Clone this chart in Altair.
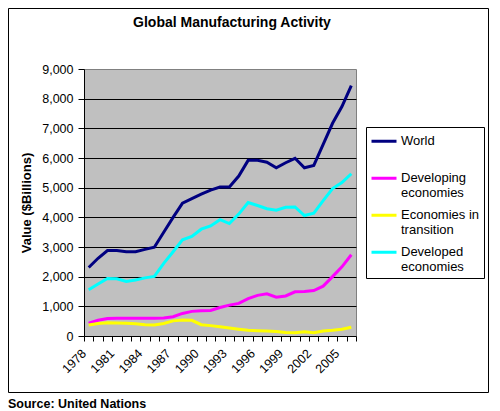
import altair as alt
import pandas as pd

years = list(range(1978, 2007))
world = [2310, 2620, 2880, 2880, 2840, 2840, 2920, 2990, 3500, 4000, 4480, 4630, 4780, 4920,
         5020, 5020, 5390, 5920, 5920, 5860, 5670, 5840, 5990, 5670, 5750, 6460, 7170, 7735, 8440]
developing = [430, 530, 590, 600, 600, 600, 600, 600, 610, 650, 760, 830, 850, 860,
              960, 1040, 1100, 1260, 1370, 1420, 1310, 1350, 1490, 1500, 1530, 1680, 2000, 2330, 2740]
transition = [370, 420, 450, 440, 430, 410, 380, 370, 420, 510, 540, 530, 380, 350,
              310, 270, 230, 190, 175, 165, 155, 120, 110, 140, 110, 170, 195, 230, 295]
developed = [1556, 1750, 1940, 1930, 1840, 1890, 1960, 2010, 2450, 2840, 3240, 3360, 3600, 3710,
             3920, 3790, 4110, 4500, 4400, 4290, 4240, 4340, 4350, 4060, 4140, 4560, 4970, 5170, 5470]

series_names = ["World", "Developing economies", "Economies in transition", "Developed economies"]
series_colors = ["#000080", "#FF00FF", "#FFFF00", "#00FFFF"]
legend_lines = {
    "World": ["World", ""],
    "Developing economies": ["\u00a0Developing", "economies"],
    "Economies in transition": ["\u00a0Economies in", "transition"],
    "Developed economies": ["\u00a0Developed", "economies"],
}
y_ticks = list(range(0, 9001, 1000))
x_label_years = list(range(1978, 2006, 3))
title_text = "Global Manufacturing Activity"
y_title = "Value ($Billions)"
source_text = "Source: United Nations"

rows = []
for name, vals in zip(series_names, [world, developing, transition, developed]):
    for yr, v in zip(years, vals):
        rows.append({"Year": yr, "Series": name, "Value": v})
df = pd.DataFrame(rows)

FONT = "Liberation Sans, Arial, sans-serif"
half_ticks = [y - 0.5 for y in years] + [years[-1] + 0.5]
x_values = half_ticks + x_label_years

label_expr = ""
for k, v in legend_lines.items():
    label_expr += "datum.label == '%s' ? ['%s', '%s'] : " % (k, v[0], v[1])
label_expr += "datum.label"

lines = alt.Chart(df).mark_line(strokeWidth=3).encode(
    x=alt.X(
        "Year:Q",
        scale=alt.Scale(domain=[1977.5, 2006.5], nice=False, zero=False),
        axis=alt.Axis(
            values=x_values, title=None,
            labelExpr="datum.value % 1 == 0 ? '' + datum.value : ''",
            labelAngle=315, labelAlign="right", labelBaseline="middle",
            labelPadding=10, labelOffset=-5, labelOverlap=False, labelFlush=False,
            labelFont=FONT, labelFontSize=12.5, labelColor="black",
            tickSize=5, tickColor="black",
            tickOpacity={"condition": {"test": "datum.value % 1 == 0", "value": 0}, "value": 1},
            domainColor="black", grid=False,
        ),
    ),
    y=alt.Y(
        "Value:Q",
        scale=alt.Scale(domain=[0, 9000], nice=False),
        axis=alt.Axis(
            values=y_ticks, format=",d", title=y_title,
            titleFont=FONT, titleFontSize=13, titleFontWeight="bold", titleColor="black",
            titlePadding=8,
            labelFont=FONT, labelFontSize=12.5, labelColor="black", labelPadding=5,
            tickSize=6, tickColor="black", domainColor="black",
            grid=True, gridColor="black",
            gridOpacity={"condition": {"test": "datum.value == 9000 || datum.value == 0", "value": 0}, "value": 1},
        ),
    ),
    color=alt.Color(
        "Series:N",
        scale=alt.Scale(domain=series_names, range=series_colors),
        legend=alt.Legend(
            orient="none", legendX=282, legendY=58, title=None,
            fillColor="white", strokeColor="black", padding=4,
            symbolType="M-1,-0.3L1,-0.3", symbolSize=625, symbolStrokeWidth=3,
            labelFont=FONT, labelFontSize=13, labelBaseline="alphabetic",
            labelExpr=label_expr, rowPadding=5, labelOffset=3, labelLimit=200, labelColor="black",
        ),
    ),
)

frame = alt.Chart(pd.DataFrame({"k": [0]})).mark_rect(
    fillOpacity=0, stroke="black", strokeWidth=1
).encode(
    x=alt.value(-75.5), x2=alt.value(404.5), y=alt.value(-60.5), y2=alt.value(323.5)
)

source = alt.Chart(pd.DataFrame({"t": [source_text]})).mark_text(
    align="left", baseline="alphabetic", font=FONT, fontSize=12.5, fontWeight="bold", color="black"
).encode(x=alt.value(-76), y=alt.value(338.5), text="t:N")

chart = alt.layer(frame, lines, source).properties(
    width=272, height=267,
    title=alt.TitleParams(
        title_text, font=FONT, fontSize=14, fontWeight="bold", color="black",
        anchor="middle", frame="group", dx=12, offset=-33, baseline="alphabetic",
    ),
    autosize=alt.AutoSizeParams(type="none"),
    padding={"left": 76, "top": 61, "right": 134, "bottom": 75},
    background="white",
).configure_view(fill="#C0C0C0", stroke="#808080", strokeWidth=1)

chart.save("out.html", embed_options={"renderer": "svg", "actions": False})
